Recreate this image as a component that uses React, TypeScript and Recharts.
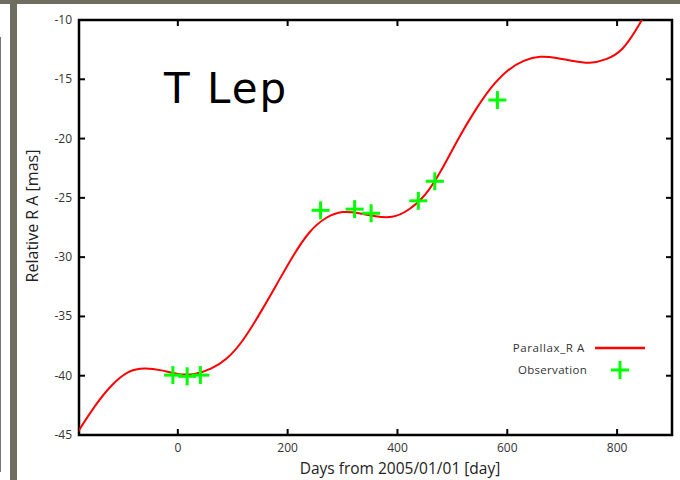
import React from "react";
import {
  ComposedChart,
  Line,
  Scatter,
  XAxis,
  YAxis,
  Customized,
} from "recharts";

// Fitted parallax + proper-motion track in RA (days from 2005/01/01, mas)
const curveDays = [
  -190, -180, -150, -120, -90, -60, -30, 0, 30, 60, 90, 120, 150, 180, 210, 240,
  270, 300, 330, 360, 390, 420, 450, 480, 510, 540, 570, 600, 630, 660, 690, 720,
  750, 780, 810, 840, 870,
];
const curveRA = [
  -45.4, -44.6, -42.5, -40.8, -39.7, -39.4, -39.55, -39.85, -39.85, -39.4,
  -38.5, -36.9, -34.7, -32.3, -29.9, -27.9, -26.7, -26.2, -26.3, -26.55,
  -26.6, -26.0, -24.75, -22.65, -20.1, -17.75, -15.75, -14.3, -13.45, -13.1,
  -13.2, -13.45, -13.6, -13.3, -12.4, -10.4, -7.9,
];

// VLBI astrometric observations
const obsDays = [-9, 17, 41, 260, 322, 352, 438, 468, 582];
const obsRA = [-39.95, -40.05, -39.95, -26.05, -25.95, -26.3, -25.25, -23.6, -16.75];

const xTicks = [0, 200, 400, 600, 800];
const yTicks = [-45, -40, -35, -30, -25, -20, -15, -10];

const curve = curveDays.map((day, i) => ({ day, ra: curveRA[i] }));
const obs = obsDays.map((day, i) => ({ day, ra: obsRA[i] }));

const W = 680;
const H = 480;
const PLOT = { left: 79, top: 20, right: 672, bottom: 435 };
const TICK_LEN = 6;
const FONT = "'Open Sans', 'DejaVu Sans', sans-serif";
const RED = "#ff0000";
const GREEN = "#00ff00";

const Plus = ({ cx, cy, size = 18 }: { cx: number; cy: number; size?: number }) => {
  const h = size / 2;
  return (
    <g>
      <line x1={cx - h} y1={cy} x2={cx + h} y2={cy} stroke={GREEN} strokeWidth={3} />
      <line x1={cx} y1={cy - h} x2={cx} y2={cy + h} stroke={GREEN} strokeWidth={3} />
    </g>
  );
};

const BottomTick = (props: any) => {
  const { x, payload } = props;
  return (
    <g>
      <line x1={x} y1={PLOT.bottom} x2={x} y2={PLOT.bottom - TICK_LEN} stroke="#000" strokeWidth={2} />
      <line x1={x} y1={PLOT.top} x2={x} y2={PLOT.top + TICK_LEN} stroke="#000" strokeWidth={2} />
      <text x={x} y={PLOT.bottom + 17} textAnchor="middle" fontSize={12} fill="#333" fontFamily={FONT}>
        {payload.value}
      </text>
    </g>
  );
};

const LeftTick = (props: any) => {
  const { y, payload } = props;
  return (
    <g>
      <line x1={PLOT.left} y1={y} x2={PLOT.left + TICK_LEN} y2={y} stroke="#000" strokeWidth={2} />
      <line x1={PLOT.right} y1={y} x2={PLOT.right - TICK_LEN} y2={y} stroke="#000" strokeWidth={2} />
      <text x={PLOT.left - 7} y={y + 4} textAnchor="end" fontSize={12} fill="#333" fontFamily={FONT}>
        {payload.value}
      </text>
    </g>
  );
};

const Frame = () => (
  <rect
    x={PLOT.left}
    y={PLOT.top}
    width={PLOT.right - PLOT.left}
    height={PLOT.bottom - PLOT.top}
    fill="none"
    stroke="#000"
    strokeWidth={2.5}
  />
);

const Title = () => (
  <text x={164} y={103} fontSize={42} letterSpacing={2} fill="#000" fontFamily="'DejaVu Sans', sans-serif">
    T Lep
  </text>
);

const AxisTitles = () => (
  <g fontFamily={FONT} fill="#222">
    <text x={400} y={474} textAnchor="middle" fontSize={15.5}>
      Days from 2005/01/01 [day]
    </text>
    <text x={38} y={216} textAnchor="middle" fontSize={16} transform="rotate(-90 38 216)">
      Relative R A [mas]
    </text>
  </g>
);

const LegendBox = () => (
  <g transform="translate(500 337)">
    <text x={85} y={15} textAnchor="end" fontSize={11.5} fill="#333" fontFamily={FONT} letterSpacing={0.6}>
      Parallax_R A
    </text>
    <line x1={95} y1={11} x2={145} y2={11} stroke={RED} strokeWidth={2.5} />
    <text x={87} y={37} textAnchor="end" fontSize={11.5} fill="#333" fontFamily={FONT} letterSpacing={0.3}>
      Observation
    </text>
    <Plus cx={120} cy={33} />
  </g>
);

export default function App() {
  return (
    <div
      style={{
        position: "fixed",
        left: 0,
        top: 0,
        width: W,
        height: H,
        background: "#fff",
        overflow: "hidden",
      }}
    >
      <div style={{ position: "absolute", left: 0, top: 0, width: W, height: 4, background: "#6d6d60" }} />
      <div style={{ position: "absolute", left: 10, top: 0, width: 7, height: H, background: "#6d6d60" }} />
      <div style={{ position: "absolute", left: 0, top: 37, width: 1, height: 435, background: "#777" }} />
      <div style={{ position: "absolute", left: 0, top: 0 }}>
        <ComposedChart
          width={W}
          height={H}
          margin={{ top: PLOT.top, right: W - PLOT.right, left: 0, bottom: 0 }}
        >
          <XAxis
            xAxisId="b"
            dataKey="day"
            type="number"
            domain={[-180, 900]}
            ticks={xTicks}
            allowDataOverflow
            height={H - PLOT.bottom}
            axisLine={false}
            tickLine={false}
            tick={<BottomTick />}
          />
          <YAxis
            yAxisId="l"
            dataKey="ra"
            type="number"
            domain={[-45, -10]}
            ticks={yTicks}
            allowDataOverflow
            width={PLOT.left}
            axisLine={false}
            tickLine={false}
            tick={<LeftTick />}
          />
          <Customized component={Frame} />
          <Line
            xAxisId="b"
            yAxisId="l"
            data={curve}
            dataKey="ra"
            name="Parallax_RA"
            type="natural"
            stroke={RED}
            strokeWidth={2}
            dot={false}
            activeDot={false}
            isAnimationActive={false}
          />
          <Scatter
            xAxisId="b"
            yAxisId="l"
            data={obs}
            dataKey="ra"
            name="Observation"
            shape={(p: any) => <Plus cx={p.cx} cy={p.cy} />}
            isAnimationActive={false}
          />
          <Customized component={LegendBox} />
          <Customized component={Title} />
          <Customized component={AxisTitles} />
        </ComposedChart>
      </div>
    </div>
  );
}
